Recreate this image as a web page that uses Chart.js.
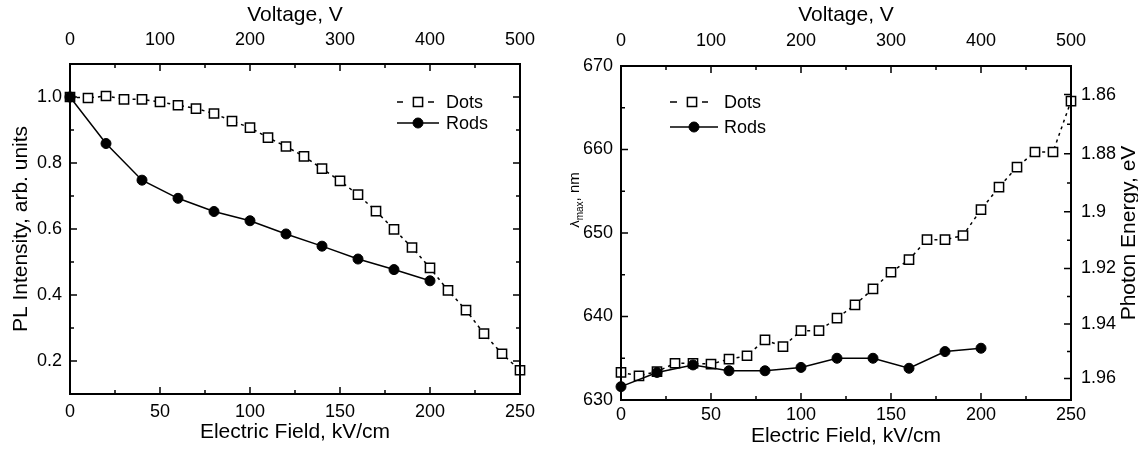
<!DOCTYPE html>
<html>
<head>
<meta charset="utf-8">
<script src="https://cdn.jsdelivr.net/npm/chart.js@4.4.0/dist/chart.umd.min.js"></script>
<style>
html, body { margin: 0; padding: 0; background: #fff; }
#wrap { position: relative; width: 1138px; height: 450px; }
#left { position: absolute; left: 0; top: 0; }
#right { position: absolute; left: 570px; top: 0; }
</style>
</head>
<body>
<div id="wrap">
<canvas id="left" width="570" height="450"></canvas>
<canvas id="right" width="568" height="450"></canvas>
</div>
<script>
const HC = 1239.84; // eV*nm

// left panel: PL intensity vs electric field
const fieldDots = [0, 10, 20, 30, 40, 50, 60, 70, 80, 90, 100, 110, 120, 130, 140, 150, 160, 170, 180, 190, 200, 210, 220, 230, 240, 250];
const plDots = [1.0, 0.997, 1.003, 0.993, 0.993, 0.985, 0.975, 0.965, 0.95, 0.927, 0.907, 0.877, 0.85, 0.82, 0.783, 0.746, 0.704, 0.654, 0.599, 0.544, 0.482, 0.414, 0.354, 0.283, 0.222, 0.172];
const fieldRods = [0, 20, 40, 60, 80, 100, 120, 140, 160, 180, 200];
const plRods = [1.0, 0.859, 0.748, 0.693, 0.653, 0.625, 0.585, 0.548, 0.509, 0.477, 0.443];

// right panel: peak wavelength vs electric field
const lamDots = [633.3, 632.9, 633.4, 634.4, 634.4, 634.3, 634.9, 635.3, 637.2, 636.4, 638.3, 638.3, 639.8, 641.4, 643.3, 645.3, 646.8, 649.2, 649.2, 649.7, 652.8, 655.5, 657.9, 659.7, 659.7, 665.8];
const lamRods = [631.6, 633.3, 634.2, 633.5, 633.5, 633.9, 635.0, 635.0, 633.8, 635.8, 636.2];

// tick values
const fieldMajor = [0, 50, 100, 150, 200, 250];
const fieldMinor = [25, 75, 125, 175, 225];
const voltMajor = [0, 100, 200, 300, 400, 500];
const voltMinor = [50, 150, 250, 350, 450];
const plMajor = [0.2, 0.4, 0.6, 0.8, 1.0];
const plMinor = [0.3, 0.5, 0.7, 0.9];
const lamMajor = [630, 640, 650, 660, 670];
const lamMinor = [635, 645, 655, 665];
const energyMajor = [1.86, 1.88, 1.90, 1.92, 1.94, 1.96];
const energyLabels = ['1.86', '1.88', '1.9', '1.92', '1.94', '1.96'];
const energyMinor = [1.87, 1.89, 1.91, 1.93, 1.95];

const FONT = '"Liberation Sans", Arial, "DejaVu Sans", sans-serif';
Chart.defaults.font.family = FONT;
Chart.defaults.color = '#000';

function pts(xs, ys) { return xs.map((x, i) => ({x: x, y: ys[i]})); }
function fit(size) {
  return function (s) { if (s.isHorizontal()) s.height = size; else s.width = size; };
}
function fixTicks(vals) {
  return function (s) { s.ticks = vals.map(v => ({value: v})); };
}

// frame and inward tick marks
const frameTicks = {
  id: 'frameTicks',
  afterDraw(chart, args, opts) {
    const ctx = chart.ctx, a = chart.chartArea;
    ctx.save();
    ctx.strokeStyle = '#000';
    ctx.lineWidth = 2;
    ctx.strokeRect(a.left, a.top, a.right - a.left, a.bottom - a.top);
    ctx.lineWidth = 1.5;
    ctx.beginPath();
    opts.marks.forEach(m => {
      const s = chart.scales[m.scale];
      m.values.forEach(v => {
        const p = s.getPixelForValue(v);
        if (m.side === 'bottom') { ctx.moveTo(p, a.bottom); ctx.lineTo(p, a.bottom - m.len); }
        if (m.side === 'top') { ctx.moveTo(p, a.top); ctx.lineTo(p, a.top + m.len); }
        if (m.side === 'left') { ctx.moveTo(a.left, p); ctx.lineTo(a.left + m.len, p); }
        if (m.side === 'right') { ctx.moveTo(a.right, p); ctx.lineTo(a.right - m.len, p); }
      });
    });
    ctx.stroke();
    ctx.restore();
  }
};

// legend inside the plot + rotated side titles
const boxLegend = {
  id: 'boxLegend',
  afterDraw(chart, args, opts) {
    const ctx = chart.ctx;
    ctx.save();
    ctx.font = '18px ' + FONT;
    ctx.fillStyle = '#000';
    ctx.strokeStyle = '#000';
    ctx.textBaseline = 'middle';
    opts.rows.forEach(r => {
      const ds = chart.data.datasets[r.ds];
      ctx.lineWidth = 1.5;
      ctx.beginPath();
      r.segs.forEach(sg => { ctx.moveTo(sg[0], r.y); ctx.lineTo(sg[1], r.y); });
      ctx.stroke();
      ctx.fillStyle = ds.pointBackgroundColor;
      ctx.lineWidth = ds.pointBorderWidth;
      Chart.helpers.drawPoint(ctx, {pointStyle: ds.pointStyle, radius: ds.pointRadius, rotation: 0, borderWidth: ds.pointBorderWidth}, r.xm, r.y);
      ctx.fillStyle = '#000';
      ctx.fillText(r.label, r.tx, r.y + 1);
    });
    ctx.textBaseline = 'alphabetic';
    (opts.sideTitles || []).forEach(t => {
      ctx.save();
      let w = 0;
      t.parts.forEach(p => { ctx.font = p.size + 'px ' + FONT; w += ctx.measureText(p.text).width; });
      ctx.translate(t.x, t.y);
      ctx.rotate(-Math.PI / 2);
      let cx = -w / 2;
      t.parts.forEach(p => {
        ctx.font = p.size + 'px ' + FONT;
        ctx.fillText(p.text, cx, p.dy || 0);
        cx += ctx.measureText(p.text).width;
      });
      ctx.restore();
    });
    ctx.restore();
  }
};

function dotsSet(data) {
  return {
    label: 'Dots', data: data, borderColor: '#000', borderWidth: 1.5, borderDash: [3, 4],
    pointStyle: 'rect', pointRadius: 6.5, pointBorderWidth: 1.5,
    pointBackgroundColor: '#fff', pointBorderColor: '#000', clip: false, order: 2
  };
}
function rodsSet(data) {
  return {
    label: 'Rods', data: data, borderColor: '#000', borderWidth: 1.5,
    pointStyle: 'circle', pointRadius: 5, pointBorderWidth: 1,
    pointBackgroundColor: '#000', pointBorderColor: '#000', clip: false, order: 1
  };
}

const tickFont = {size: 18};
const titleFont = {size: 21};

// ---- left chart
new Chart(document.getElementById('left'), {
  type: 'line',
  data: { datasets: [dotsSet(pts(fieldDots, plDots)), rodsSet(pts(fieldRods, plRods))] },
  options: {
    responsive: false, animation: false,
    layout: { padding: { right: 50 } },
    plugins: {
      legend: { display: false }, tooltip: { enabled: false },
      frameTicks: { marks: [
        {scale: 'x', side: 'bottom', values: fieldMajor, len: 7},
        {scale: 'x', side: 'bottom', values: fieldMinor, len: 4},
        {scale: 'x2', side: 'top', values: voltMajor, len: 7},
        {scale: 'x2', side: 'top', values: voltMinor, len: 4},
        {scale: 'y', side: 'left', values: plMajor, len: 7},
        {scale: 'y', side: 'left', values: plMinor, len: 4},
        {scale: 'y', side: 'right', values: plMajor, len: 7},
        {scale: 'y', side: 'right', values: plMinor, len: 4}
      ] },
      boxLegend: { rows: [
        {ds: 0, label: 'Dots', y: 102, segs: [[397, 403], [428, 434]], xm: 418, tx: 446},
        {ds: 1, label: 'Rods', y: 123, segs: [[397, 439]], xm: 418, tx: 446}
      ] }
    },
    scales: {
      x: {
        type: 'linear', position: 'bottom', min: 0, max: 250,
        afterBuildTicks: fixTicks(fieldMajor), afterFit: fit(56),
        grid: { display: false, drawTicks: false }, border: { display: false },
        ticks: { font: tickFont, padding: 7, maxRotation: 0 },
        title: { display: true, text: 'Electric Field, kV/cm', font: titleFont, padding: { top: 0, bottom: 5 } }
      },
      x2: {
        type: 'linear', position: 'top', min: 0, max: 500,
        afterBuildTicks: fixTicks(voltMajor), afterFit: fit(64),
        grid: { display: false, drawTicks: false }, border: { display: false },
        ticks: { font: tickFont, padding: 13, maxRotation: 0 },
        title: { display: true, text: 'Voltage, V', font: titleFont, padding: { top: 3, bottom: 0 } }
      },
      y: {
        type: 'linear', position: 'left', min: 0.1, max: 1.1,
        afterBuildTicks: fixTicks(plMajor), afterFit: fit(70),
        grid: { display: false, drawTicks: false }, border: { display: false },
        ticks: { font: tickFont, padding: 8, callback: v => v.toFixed(1) },
        title: { display: true, text: 'PL Intensity, arb. units', font: titleFont, padding: { top: 9, bottom: 0 } }
      }
    }
  },
  plugins: [frameTicks, boxLegend]
});

// ---- right chart
const lamEnergyMajor = energyMajor.map(e => HC / e);
const lamEnergyMinor = energyMinor.map(e => HC / e);

new Chart(document.getElementById('right'), {
  type: 'line',
  data: { datasets: [dotsSet(pts(fieldDots, lamDots)), rodsSet(pts(fieldRods, lamRods))] },
  options: {
    responsive: false, animation: false,
    plugins: {
      legend: { display: false }, tooltip: { enabled: false },
      frameTicks: { marks: [
        {scale: 'x', side: 'bottom', values: fieldMajor, len: 7},
        {scale: 'x', side: 'bottom', values: fieldMinor, len: 4},
        {scale: 'x2', side: 'top', values: voltMajor, len: 7},
        {scale: 'x2', side: 'top', values: voltMinor, len: 4},
        {scale: 'y', side: 'left', values: lamMajor, len: 7},
        {scale: 'y', side: 'left', values: lamMinor, len: 4},
        {scale: 'y2', side: 'right', values: lamEnergyMajor, len: 7},
        {scale: 'y2', side: 'right', values: lamEnergyMinor, len: 4}
      ] },
      boxLegend: {
        rows: [
          {ds: 0, label: 'Dots', y: 102, segs: [[100, 107], [132, 138]], xm: 122, tx: 154},
          {ds: 1, label: 'Rods', y: 127, segs: [[100, 148]], xm: 124, tx: 154}
        ],
        sideTitles: [
          { x: 9, y: 200, parts: [{text: 'λ', size: 15}, {text: 'max', size: 10, dy: 4}, {text: ', nm', size: 15}] },
          { x: 565, y: 233, parts: [{text: 'Photon Energy, eV', size: 21}] }
        ]
      }
    },
    scales: {
      x: {
        type: 'linear', position: 'bottom', min: 0, max: 250,
        afterBuildTicks: fixTicks(fieldMajor), afterFit: fit(50),
        grid: { display: false, drawTicks: false }, border: { display: false },
        ticks: { font: tickFont, padding: 4, maxRotation: 0 },
        title: { display: true, text: 'Electric Field, kV/cm', font: titleFont, padding: { top: 0, bottom: 1 } }
      },
      x2: {
        type: 'linear', position: 'top', min: 0, max: 500,
        afterBuildTicks: fixTicks(voltMajor), afterFit: fit(66),
        grid: { display: false, drawTicks: false }, border: { display: false },
        ticks: { font: tickFont, padding: 14, maxRotation: 0 },
        title: { display: true, text: 'Voltage, V', font: titleFont, padding: { top: 3, bottom: 0 } }
      },
      y: {
        type: 'linear', position: 'left', min: 630, max: 670,
        afterBuildTicks: fixTicks(lamMajor), afterFit: fit(51),
        grid: { display: false, drawTicks: false }, border: { display: false },
        ticks: { font: tickFont, padding: 8 }
      },
      y2: {
        type: 'linear', position: 'right', min: 630, max: 670,
        afterBuildTicks: fixTicks(lamEnergyMajor), afterFit: fit(67),
        grid: { display: false, drawTicks: false }, border: { display: false },
        ticks: { font: tickFont, padding: 10, autoSkip: false, callback: (v, i) => energyLabels[i] }
      }
    }
  },
  plugins: [frameTicks, boxLegend]
});
</script>
</body>
</html>
